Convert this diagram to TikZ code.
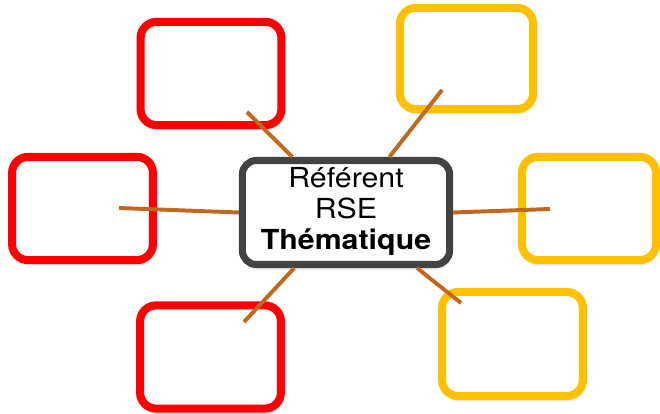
\documentclass[tikz,border=0pt]{standalone}
\usepackage{fontspec}
\setmainfont{TeX Gyre Heros}
\usepackage{tikz}
\usetikzlibrary{shadows}

\definecolor{poleRed}{HTML}{FF0000}
\definecolor{poleYellow}{HTML}{FFC000}
\definecolor{centreGrey}{HTML}{424242}
\definecolor{linkBrown}{HTML}{C1681F}

\newcommand{\centretext}{\scalebox{1.1}[1]{\fontsize{19.6pt}{22pt}\selectfont
  \begin{tabular}{@{}c@{}}Référent\\RSE\\\textbf{Thématique}\end{tabular}}}

\tikzset{
  pole/.style={draw, fill=white, line width=5.7pt, rounded corners=0.4cm,
    minimum width=3.52cm, minimum height=2.58cm,
    drop shadow={shadow xshift=0.8pt, shadow yshift=-4pt, opacity=0.15}},
  redpole/.style={pole, draw=poleRed},
  yellowpole/.style={pole, draw=poleYellow},
  centrebox/.style={draw=centreGrey, fill=white, line width=5pt, rounded corners=0.35cm,
    minimum width=5.18cm, minimum height=2.6cm, inner sep=0pt,
    drop shadow={shadow xshift=0.8pt, shadow yshift=-4pt, opacity=0.15}},
  link/.style={linkBrown, line width=2.8pt}
}

\begin{document}
\begin{tikzpicture}[x=0.025cm, y=-0.025cm]
\useasboundingbox (0,0) rectangle (660,414);

% --- red poles (left side) ---
\node[redpole] (redtop) at (211,73.5) {};
\node[redpole] (redleft) at (82.5,208.5) {};
\node[redpole] (redbottom) at (210.5,357) {};

% --- yellow poles (right side) ---
\node[yellowpole, minimum width=3.33cm, minimum height=2.53cm] (yellowtop) at (466.5,58.5) {};
\node[yellowpole, minimum width=3.35cm] (yellowright) at (589,208.5) {};
\node[yellowpole, minimum height=2.6cm] (yellowbottom) at (512.5,344) {};

% --- centre ---
\node[centrebox] (centre) at (346,212.5) {\centretext};

% --- links ---
\coordinate (redtop-end) at (247,112);
\coordinate (redleft-end) at (119,208);
\coordinate (redbottom-end) at (244,322);
\coordinate (yellowtop-end) at (442,90);
\coordinate (yellowright-end) at (550,209);
\coordinate (yellowbottom-end) at (461,303);
\draw[link] (redtop-end) -- (centre.134);
\draw[link] (redleft-end) -- (centre.180);
\draw[link] (redbottom-end) -- (centre.227);
\draw[link] (yellowtop-end) -- (centre.52);
\draw[link] (yellowright-end) -- (centre.0);
\draw[link] (yellowbottom-end) -- (centre.322);
\end{tikzpicture}
\end{document}
